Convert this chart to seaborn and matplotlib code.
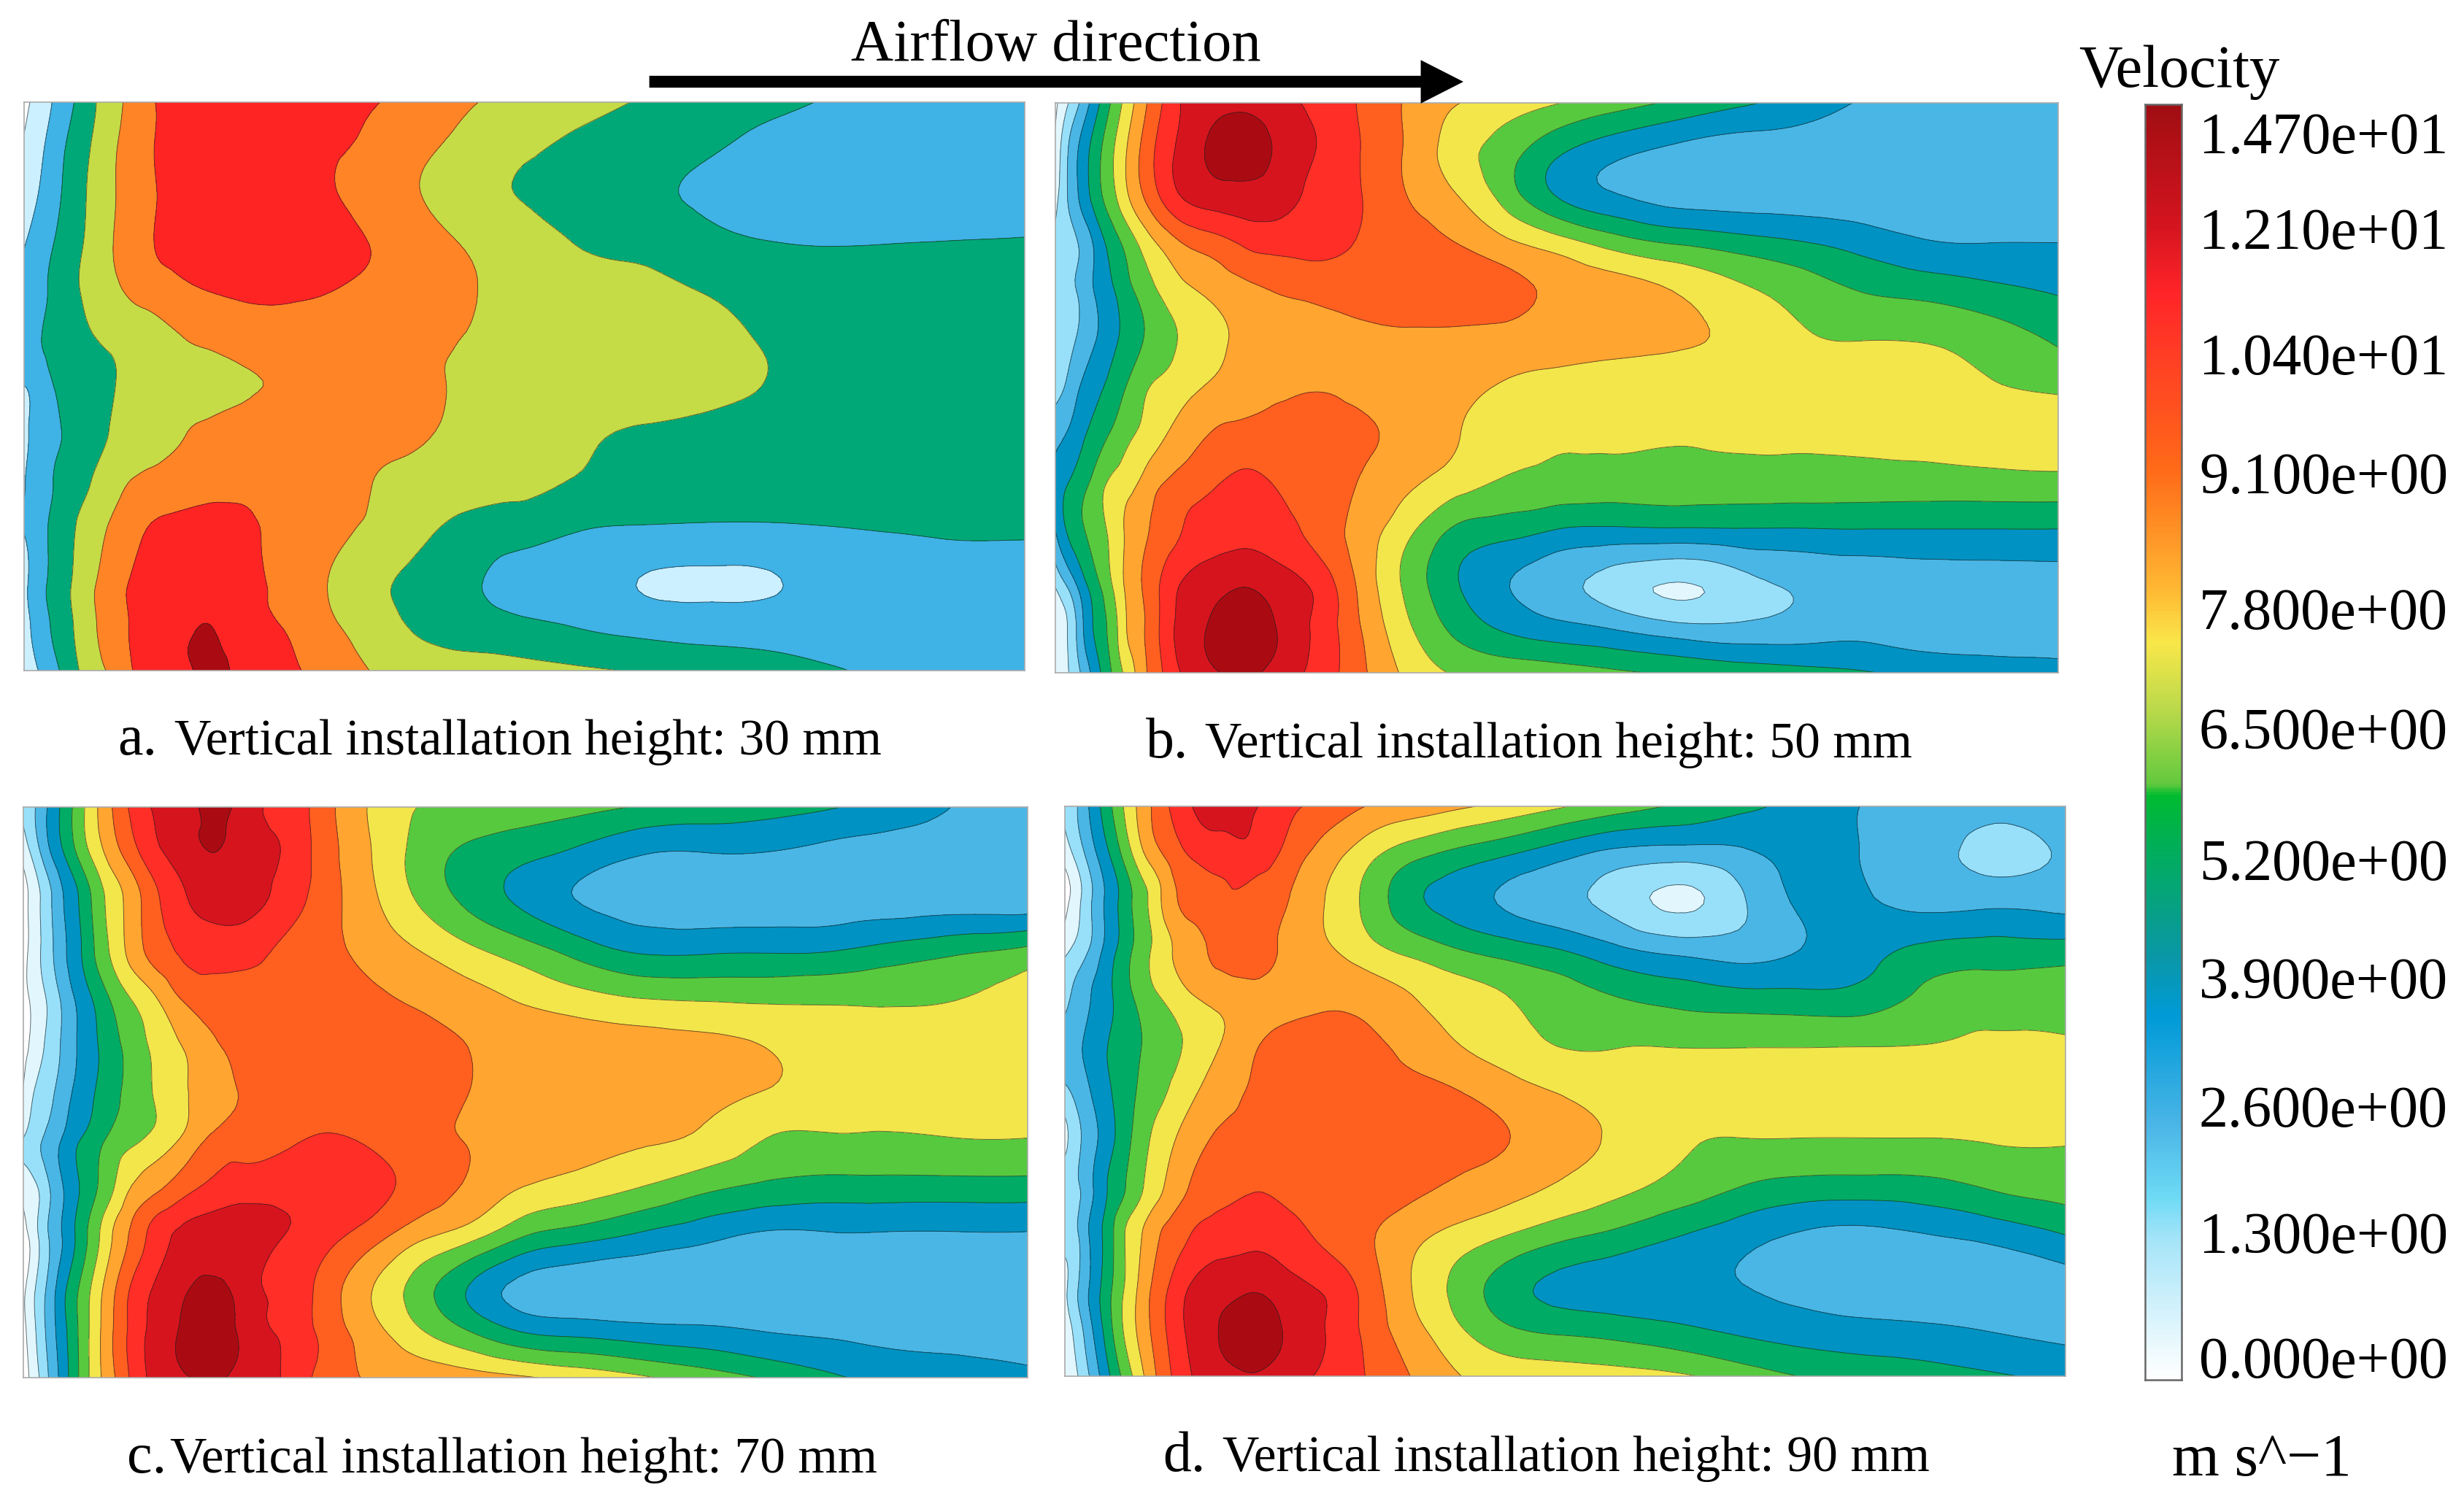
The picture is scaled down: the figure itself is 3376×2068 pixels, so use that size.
import numpy as np
import seaborn as sns
import matplotlib
matplotlib.use('Agg')
import matplotlib.pyplot as plt
import matplotlib.tri as mtri
from matplotlib.colors import LinearSegmentedColormap

# sample positions, fraction of panel width / height (from top)
x_frac = [0, .012, .025, .04, .055, .07, .09, .11, .13, .16,
          .19, .22, .26, .30, .35, .40, .45, .50, .55, .62,
          .68, .74, .80, .86, .93, 1]
y_frac = [0, .08, .16, .25, .33, .42, .5, .58, .67, .75, .85, .92, 1]

# velocity, one row per y_frac
velocity_a = [
    [.7, 1.4, 2.7, 4.2, 5.4, 6.8, 8.4, 9.7, 10.95, 11.5, 11.8, 11.8, 11.7, 11.5, 11.1, 10, 9.05, 8.5, 7.8, 6.8, 6.1, 5.5, 4.9, 4.4, 4.2, 4.2],
    [1.2, 2.2, 3.5, 4.9, 6.1, 7.3, 8.8, 10, 11, 11.6, 11.8, 11.9, 11.6, 11.2, 10.6, 9.3, 8.4, 7.4, 6.6, 5.8, 5.2, 4.6, 4.2, 4.1, 4.1, 4.1],
    [1.9, 2.8, 4, 5.2, 6.4, 7.6, 8.9, 10, 10.9, 11.6, 11.8, 11.9, 11.7, 11.2, 10.3, 8.9, 7.9, 6.8, 6.3, 5.4, 4.8, 4.5, 4.2, 4.1, 4.1, 4.1],
    [2.9, 3.8, 4.7, 5.7, 6.7, 7.8, 9.05, 10, 11, 11.6, 11.8, 11.9, 11.8, 11.6, 10.9, 9.8, 8.8, 8.2, 7, 6.3, 5.6, 5.1, 4.95, 5, 5.1, 5.2],
    [3.5, 4.2, 5.1, 6, 6.95, 7.8, 8.6, 9.5, 10, 10.7, 11.1, 11.3, 11.3, 11.1, 10.6, 10, 9.05, 8.7, 8.3, 7.6, 6.9, 6.4, 6, 6, 6, 6],
    [3.5, 4.6, 5.4, 5.9, 6.4, 6.9, 7.3, 7.6, 8, 8.9, 9.4, 9.8, 10, 10, 9.8, 9.3, 8.9, 8.7, 8.5, 8.2, 7.7, 6.9, 6.5, 6.2, 6, 6],
    [3, 3.6, 4.7, 5.4, 5.8, 6.2, 6.95, 7.5, 7.8, 8.1, 8.4, 8.8, 9.2, 9.6, 9.8, 9.3, 8.7, 8.5, 8.4, 8.2, 7.8, 6.95, 6.3, 6, 6, 6],
    [2.5, 3.7, 4.4, 5.1, 5.7, 6.3, 7.2, 7.6, 8, 8.9, 9.4, 9.7, 10, 10, 9.9, 9.2, 8.4, 7.9, 7.4, 6.8, 6.4, 6.1, 6, 6, 6, 6],
    [2.9, 3.8, 4.7, 5.7, 6.4, 7.2, 8.3, 9.2, 9.6, 10, 10.4, 10.6, 10.5, 10.2, 8.95, 8.2, 7.8, 7.4, 6.9, 6.4, 6.1, 6, 6, 6, 5.9, 5.9],
    [3.1, 3.9, 5.1, 6.1, 7.3, 8.3, 9.4, 10.5, 11.2, 11.6, 11.7, 11.3, 10.6, 9.7, 8.6, 7.4, 6.3, 5.9, 5.2, 4.8, 4.7, 4.7, 4.9, 5.1, 5.3, 5.3],
    [2.5, 4, 5.2, 6.4, 7.7, 8.9, 10.2, 11.3, 11.8, 12.3, 12.5, 11.8, 10.4, 9.1, 7.5, 6.2, 5.2, 4.1, 3.7, 2.9, 2.7, 2.8, 3.5, 3.9, 4, 4],
    [2.3, 3.6, 4.9, 6.2, 7.5, 8.8, 10.1, 11.3, 12, 12.7, 12.95, 12, 10.9, 9.5, 8, 6.5, 5.9, 5.4, 4.9, 4.2, 4, 4, 4, 4, 4, 4],
    [1.5, 2.8, 3.9, 5.5, 7, 8.3, 9.5, 11.1, 11.9, 12.7, 13.4, 12.5, 11.5, 10.3, 8.9, 8.3, 7.9, 7.6, 7.3, 6.8, 6.2, 5.7, 5.2, 4.7, 4.3, 4.2],
]
velocity_b = [
    [.8, 1.9, 3.1, 4.6, 6, 7.3, 8.9, 10.2, 11.2, 11.6, 11.8, 11.4, 10.8, 10, 8.9, 8.05, 7.5, 7.05, 6.5, 5.8, 5.2, 4.6, 3.95, 3.6, 3.4, 3.3],
    [1.2, 2.9, 4.2, 5.5, 6.7, 7.9, 9.4, 10.6, 11.4, 12.3, 12.5, 11.9, 11, 10.1, 8.9, 7.5, 6.5, 5.3, 4.5, 3.8, 3.5, 3.5, 3.4, 3.4, 3.4, 3.4],
    [1.6, 3, 4.2, 5.5, 6.6, 7.8, 9.2, 10.4, 11.2, 11.6, 11.7, 11.5, 10.7, 10.1, 9, 8, 6.5, 4.9, 4.1, 3.5, 3.4, 3.4, 3.4, 3.4, 3.4, 3.4],
    [2.3, 2.6, 3.1, 4.2, 5.3, 6.2, 7.4, 8.3, 9, 9.5, 10.1, 10.3, 10.3, 9.95, 9.5, 9.05, 8.3, 7.6, 6.8, 6.05, 5.6, 5.2, 4.7, 4.2, 4.05, 4.05],
    [2.4, 2.7, 3.2, 4.1, 4.8, 5.6, 6.5, 7.3, 7.8, 8.3, 8.7, 9.05, 9.3, 9.5, 9.6, 9.5, 9.3, 8.8, 8.5, 7.95, 7.25, 6.6, 6, 5.7, 5.3, 4.9],
    [2.1, 2.6, 3.3, 4, 4.7, 5.3, 6.1, 6.7, 7.2, 7.8, 8.2, 8.4, 8.6, 8.7, 8.75, 8.7, 8.6, 8.5, 8.35, 8.1, 7.8, 7.2, 7.02, 7, 6.6, 5.9],
    [2.6, 3.2, 4.05, 4.7, 5.3, 6, 6.9, 7.3, 7.7, 8.2, 8.5, 8.75, 8.95, 8.8, 8.5, 8.2, 7.9, 7.6, 7.5, 7.5, 7.5, 7.5, 7.5, 7.4, 7.1, 6.85],
    [3.7, 4.05, 4.7, 5.4, 6.05, 6.7, 7.3, 7.95, 8.5, 9.1, 9.3, 9.4, 9.3, 9.15, 8.7, 8.05, 7.5, 7.1, 7.15, 7.1, 7.2, 7.2, 7.25, 7.3, 7.4, 7.5],
    [4.3, 5, 5.6, 6.4, 7.2, 7.6, 8.4, 9.1, 9.5, 9.95, 10.3, 9.95, 9.5, 9, 8.2, 7.4, 6.8, 6.6, 6.5, 6.5, 6.5, 6.5, 6.5, 6.5, 6.55, 6.6],
    [4, 5.1, 5.8, 6.5, 7.2, 8.1, 8.9, 9.5, 10.1, 10.5, 10.7, 10.4, 9.7, 8.7, 7.3, 5.8, 5.4, 4.95, 4.8, 4.85, 4.9, 4.9, 4.95, 4.95, 4.95, 4.95],
    [2, 3, 4.3, 5.6, 6.8, 8.1, 9.2, 10.4, 11.2, 11.7, 12, 11.6, 10.8, 9, 6.8, 5.1, 4.05, 3.3, 2.65, 1.9, 2.5, 3.1, 3.3, 3.4, 3.45, 3.5],
    [1.5, 2, 3.6, 5.2, 6.3, 7.9, 9.05, 10.5, 11.4, 12.3, 12.7, 12, 10.8, 9.2, 7.2, 5.7, 4.8, 4.3, 3.95, 3.3, 3.2, 3.4, 3.6, 3.4, 3.4, 3.4],
    [1.1, 1.9, 3, 4.5, 5.9, 7.2, 8.9, 10.2, 11.2, 11.9, 12.3, 11.6, 10.7, 9.4, 7.8, 6.9, 6.7, 6.5, 6.2, 5.85, 5.6, 5.35, 5.1, 4.8, 4.5, 4.4],
]
velocity_c = [
    [2.3, 3, 4.1, 5.3, 6.5, 7.7, 9.1, 10.3, 11.1, 11.5, 12.4, 11.5, 10.7, 9.4, 7.8, 6.9, 6.7, 6.5, 6.3, 5.9, 5.65, 5.4, 5.1, 4.6, 3.95, 3.6],
    [1.4, 2.5, 3.8, 5, 6.2, 7.3, 8.6, 9.7, 10.7, 11.5, 12, 11.5, 10.9, 9.5, 7.9, 6.5, 5.75, 5.3, 4.8, 4.05, 4, 3.98, 3.7, 3.5, 3.4, 3.3],
    [.6, 1.6, 2.7, 4, 5, 6.2, 7.5, 8.6, 9.7, 10.9, 11.4, 11.4, 10.6, 9.5, 8.1, 6.7, 5.6, 4.7, 3.98, 3.5, 3.4, 3.4, 3.4, 3.4, 3.4, 3.3],
    [.6, 1.6, 2.6, 3.8, 4.8, 5.95, 7.3, 8.5, 9.4, 10.2, 10.5, 10.4, 9.8, 9.3, 8.6, 7.9, 7.1, 6.4, 5.6, 4.8, 4.8, 4.85, 4.9, 5.3, 5.75, 6.2],
    [.7, 1.4, 2.2, 3.3, 4.3, 5.15, 6.3, 7.2, 7.95, 9.2, 9.5, 9.6, 9.6, 9.5, 9.15, 8.7, 8.3, 7.75, 7.3, 6.85, 6.75, 6.7, 6.75, 6.8, 6.95, 7.3],
    [.7, 1.4, 2.3, 3.2, 4.1, 4.8, 5.7, 6.45, 7.2, 8.05, 8.85, 9.3, 9.5, 9.55, 9.6, 9.4, 8.95, 8.75, 8.6, 8.4, 8.25, 7.98, 7.5, 7.4, 7.4, 7.4],
    [1.1, 2.1, 2.7, 3.55, 4.3, 4.95, 5.75, 6.4, 7.05, 7.9, 8.5, 9.1, 9.35, 9.5, 9.5, 9.35, 8.95, 8.75, 8.55, 8.35, 8.2, 7.95, 7.5, 7.4, 7.4, 7.4],
    [2, 2.6, 3.3, 4.1, 4.9, 5.45, 6.3, 6.75, 7.25, 8.15, 9.2, 9.4, 9.7, 10.1, 9.75, 9.3, 8.9, 8.7, 8.4, 8.1, 7.8, 7, 6.9, 6.9, 7, 7],
    [1.3, 1.8, 2.85, 4, 4.95, 5.8, 7, 8.2, 8.8, 9.7, 10.3, 10.6, 10.7, 10.7, 10.3, 9.5, 8.7, 7.9, 7.5, 6.85, 6.15, 5.7, 5.5, 5.5, 5.5, 5.5],
    [.6, 1.7, 3, 4.1, 5.3, 6.5, 8.1, 9.3, 10.4, 11.2, 11.5, 11.5, 11, 10.4, 9.4, 8.2, 7.3, 6.05, 5.5, 4.8, 4.3, 3.85, 3.9, 3.9, 3.9, 3.9],
    [.8, 2.05, 3.3, 4.8, 6.05, 7.3, 8.9, 10.3, 11.1, 11.9, 12.4, 11.5, 10.7, 9.6, 7.9, 6.3, 4.7, 3.6, 3.35, 3.3, 3.3, 3.3, 3.3, 3.3, 3.3, 3.3],
    [.7, 1.95, 3.3, 4.7, 6.05, 7.4, 9.05, 10.4, 11.3, 12.2, 12.6, 11.7, 10.8, 9.7, 8.3, 7, 5.9, 4.95, 4.7, 4.4, 4.25, 4, 3.85, 3.7, 3.7, 3.7],
    [.5, 1.6, 3, 4.5, 6, 7.4, 8.9, 10.3, 11.3, 11.9, 12.2, 11.6, 10.9, 9.6, 8.9, 8.7, 8.4, 8.1, 7.7, 7.1, 6.5, 5.9, 5.2, 4.7, 4.3, 4.1],
]
velocity_d = [
    [2.2, 2.95, 4.1, 5.4, 6.7, 7.9, 9.2, 10.3, 11.1, 11.3, 11.05, 10.4, 9.7, 9, 8.6, 8.1, 7.6, 7.05, 6.5, 5.8, 5.2, 4.6, 3.95, 3.6, 3.4, 3.4],
    [1.5, 2.4, 3.5, 4.7, 5.95, 7.3, 8.7, 9.6, 10.3, 10.6, 10.7, 9.8, 8.6, 7.5, 6.4, 5.7, 5.1, 4.4, 3.8, 3.6, 3.9, 4.3, 3.95, 3.4, 2.7, 3.2],
    [.6, 1.6, 2.8, 4.05, 5.1, 6.2, 7.5, 8.9, 9.3, 9.9, 9.7, 9.1, 8, 6.8, 5.2, 4.4, 3.7, 3.2, 2.6, 1.8, 3, 4.2, 4.1, 3.6, 3.6, 3.5],
    [1.7, 2.3, 3.05, 4.2, 5.2, 6.15, 7.2, 8.1, 8.7, 9.4, 9.5, 8.8, 8.15, 7.4, 6.6, 5.9, 5.4, 4.9, 4.2, 3.6, 3.5, 4.05, 4.6, 5.2, 5.4, 5.4],
    [2.7, 3.3, 3.95, 4.6, 5.4, 6.1, 6.9, 7.5, 8.05, 8.4, 8.7, 8.8, 8.8, 8.6, 7.95, 7.4, 6.9, 6.4, 5.95, 5.5, 5.25, 5.2, 5.35, 6.2, 6.5, 6.6],
    [3.5, 3.8, 4.3, 4.9, 5.4, 5.8, 6.4, 6.8, 7.4, 8.1, 8.9, 9.3, 9.5, 9.3, 8.6, 7.95, 7.4, 6.95, 6.95, 6.95, 6.95, 6.95, 6.97, 7.02, 7.2, 7.1],
    [2.8, 3.3, 3.97, 4.7, 5.35, 5.95, 6.6, 7.25, 7.9, 8.6, 9.15, 9.4, 9.6, 9.5, 9.3, 8.95, 8.35, 7.9, 7.6, 7.5, 7.5, 7.5, 7.5, 7.5, 7.5, 7.5],
    [1.7, 2.7, 3.5, 4.4, 5.3, 6.2, 7.2, 7.95, 8.6, 9.2, 9.4, 9.6, 9.7, 9.7, 9.6, 9.3, 8.95, 8.3, 7.9, 7.15, 7.02, 7.02, 7.02, 7.02, 7.1, 7.1],
    [2.6, 2.85, 3.7, 4.85, 5.7, 6.55, 7.6, 8.5, 9.2, 9.7, 9.95, 9.8, 9.7, 9.6, 9.2, 8.75, 8.3, 7.8, 7.3, 6.55, 5.9, 5.55, 5.5, 5.6, 6.1, 6.4],
    [2.6, 2.9, 4.1, 5.2, 6.6, 7.6, 8.75, 9.5, 10.1, 10.5, 10.7, 10.4, 9.8, 9.2, 8.3, 7.6, 6.95, 6.3, 5.8, 5.02, 4.4, 3.9, 3.75, 4, 4.4, 5.05],
    [1.8, 2.9, 4.1, 5.4, 6.7, 7.85, 9.3, 10.4, 11.3, 11.7, 11.95, 11.5, 10.9, 9.7, 7.9, 6.5, 5.3, 4.7, 4.5, 4.3, 4.05, 3.7, 3.5, 3.4, 3.4, 3.5],
    [1.4, 2.4, 3.7, 5.2, 6.7, 7.9, 9.3, 10.5, 11.4, 12.2, 12.7, 11.9, 11, 9.8, 8.3, 7, 6.1, 5.8, 5.6, 5.2, 4.8, 4.5, 4.3, 4.2, 3.95, 3.7],
    [1, 1.9, 3.05, 4.5, 5.9, 7.2, 8.9, 10.2, 11.1, 11.6, 11.9, 11.4, 10.8, 10, 8.9, 7.95, 7.6, 7.5, 7.4, 7.1, 6.5, 5.95, 5.7, 5.4, 5.1, 4.8],
]

coarse_levels = [0, 1, 3, 5, 7, 9, 11, 13, 15]
coarse_colors = ['#ffffff', '#ccf0ff', '#3fb2e6', '#00a877', '#c5dc46', '#ff8426', '#ff2424', '#aa0b12']
fine_levels = [0, 1, 2, 3, 4, 5, 6, 7, 8, 9, 10, 11, 12, 15]
fine_colors = ['#ffffff', '#e2f6fe', '#98e0fa', '#4ab6e5', '#0092c3', '#00ab65', '#57c93f',
               '#f2e64b', '#ffa530', '#ff5f1f', '#ff2e26', '#d6141e', '#aa0b12']

cbar_stops = [(0, '#ffffff'), (.048, '#d8f3fc'), (.109, '#a5e4f8'), (.142, '#6edaf5'), (.2, '#4ab5e6'),
              (.284, '#009ad8'), (.333, '#0a97a5'), (.428, '#00b14f'), (.458, '#00bb30'), (.467, '#62c93e'),
              (.525, '#b9d94a'), (.578, '#f9e74a'), (.62, '#ffb833'), (.714, '#ff6a18'), (.81, '#ff3a25'),
              (.853, '#ff2428'), (.905, '#d5141f'), (1, '#a00e12')]
cbar_labels = ['1.470e+01', '1.210e+01', '1.040e+01', '9.100e+00', '7.800e+00', '6.500e+00',
               '5.200e+00', '3.900e+00', '2.600e+00', '1.300e+00', '0.000e+00']

W, H = 3376, 2068

sns.set_theme(style='white')
plt.rcParams['font.family'] = ['Liberation Serif', 'DejaVu Serif']

fig = plt.figure(figsize=(W / 200, H / 200), dpi=200, facecolor='white')


def box(x0, y0, x1, y1):
    return [x0 / W, 1 - y1 / H, (x1 - x0) / W, (y1 - y0) / H]


def draw_panel(rect, values, levels, colors):
    ax = fig.add_axes(box(*rect))
    # matplotlib's own cubic refiner gives the round contour edges
    gx, gy = np.meshgrid(x_frac, y_frac)
    tri = mtri.Triangulation(gx.ravel(), gy.ravel())
    fine_tri, fine_z = mtri.UniformTriRefiner(tri).refine_field(np.array(values).ravel(), subdiv=3)
    ax.tricontourf(fine_tri, fine_z, levels=levels, colors=colors, extend='both')
    ax.tricontour(fine_tri, fine_z, levels=levels[1:-1], colors='#222222', linewidths=0.35, alpha=0.65)
    ax.set_xlim(0, 1)
    ax.set_ylim(1, 0)
    ax.set_xticks([])
    ax.set_yticks([])
    for s in ax.spines.values():
        s.set_color('#aaaaaa')
        s.set_linewidth(0.6)
    return ax


draw_panel((33, 140, 1404, 919), velocity_a, coarse_levels, coarse_colors + ['#aa0b12'])
draw_panel((1446, 141, 2820, 922), velocity_b, fine_levels, fine_colors + ['#aa0b12'])
draw_panel((32, 1106, 1408, 1888), velocity_c, fine_levels, fine_colors + ['#aa0b12'])
draw_panel((1459, 1105, 2830, 1886), velocity_d, fine_levels, fine_colors + ['#aa0b12'])

# colour bar
cmap = LinearSegmentedColormap.from_list('velocity', cbar_stops, N=512)
cax = fig.add_axes(box(2939, 143, 2989, 1891))
sns.heatmap(np.linspace(14.7, 0, 874).reshape(-1, 1), cmap=cmap, cbar=False, ax=cax,
            xticklabels=False, yticklabels=False)
cax.yaxis.tick_right()
cax.set_yticks([(y - 143) / 2 for y in [309, 476, 642, 808, 974, 1142, 1309, 1475, 1642, 1807]])
cax.set_yticklabels([])
cax.tick_params(axis='y', direction='in', length=10, width=0.7, color='#222222', right=True, left=False)
for s in cax.spines.values():
    s.set_visible(True)
    s.set_color('#666666')
    s.set_linewidth(0.9)

# overlay in pixel coordinates for arrow and text
ov = fig.add_axes([0, 0, 1, 1], facecolor='none')
ov.set_xlim(0, W)
ov.set_ylim(H, 0)
ov.axis('off')
ov.arrow(891, 112, 1111, 0, width=13.5, head_width=55, head_length=54,
         length_includes_head=True, color='black', zorder=5)
ov.text(1447, 64, 'Airflow direction', fontsize=29, ha='center', va='center', color='black')
ov.text(2986, 99, 'Velocity', fontsize=29.8, ha='center', va='center', color='black')
ov.text(3099, 2002, 'm s^\u22121', fontsize=30, ha='center', va='center', color='black')

label_base = [210, 341, 513, 676, 862, 1026, 1206, 1368, 1544, 1717, 1888]
for txt, yb in zip(cbar_labels, label_base):
    ov.text(3013, yb, txt, fontsize=28.9, ha='left', va='baseline', color='black')

captions = [('a.', 161, 239, 1012, 'Vertical installation height: 30 mm'),
            ('b.', 1570, 1651, 1016, 'Vertical installation height: 50 mm'),
            ('c.', 174, 233, 1996, 'Vertical installation height: 70 mm'),
            ('d.', 1593, 1675, 1994, 'Vertical installation height: 90 mm')]
for tag, x_tag, x_txt, y, txt in captions:
    ov.text(x_tag, y + 22, tag, fontsize=28, ha='left', va='baseline', color='black')
    ov.text(x_txt, y + 22, txt, fontsize=25.1, ha='left', va='baseline', color='black')

fig.savefig('out.png', dpi=200, facecolor='white')
